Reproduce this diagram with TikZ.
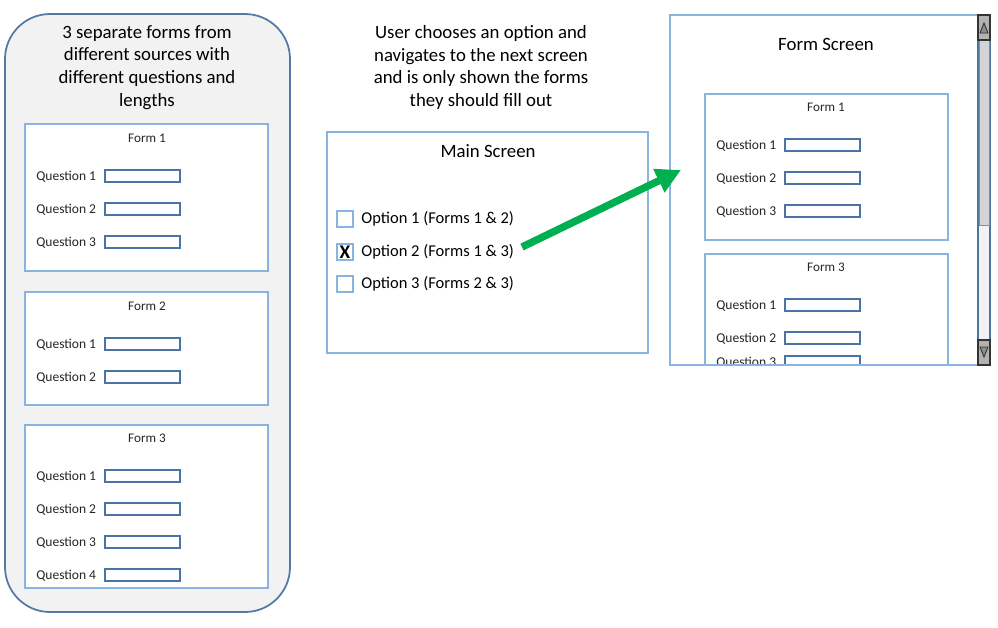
\documentclass[tikz,border=0pt]{standalone}
\usepackage{fontspec}
\setmainfont{Carlito}
\usetikzlibrary{arrows.meta}

\definecolor{panelfill}{HTML}{F2F2F2}
\definecolor{panelline}{HTML}{5479A6}
\definecolor{boxline}{HTML}{8AB4E0}
\definecolor{fieldline}{HTML}{4A74A6}
\definecolor{arrowgreen}{HTML}{00B050}
\definecolor{textgrey}{HTML}{262626}

\tikzset{
  formbox/.style={draw=boxline, fill=white, line width=0.8pt},
  formtitle/.style={inner sep=0pt, text=textgrey, font=\fontsize{7.5}{9}\selectfont},
  qtext/.style={anchor=west, inner sep=0pt, text=textgrey, font=\fontsize{7.7}{9}\selectfont},
  qfield/.style={anchor=west, draw=fieldline, fill=white, line width=0.9pt,
    minimum width=1.5cm, minimum height=0.24cm, inner sep=0pt},
  bigtext/.style={inner sep=0pt, align=center, font=\fontsize{10.7}{12.9}\selectfont},
  optbox/.style={draw=boxline, fill=white, line width=0.8pt, minimum size=0.32cm, inner sep=0pt},
  opttext/.style={anchor=west, inner sep=0pt, font=\fontsize{9.4}{11}\selectfont},
}

\begin{document}
\begin{tikzpicture}[x=0.02cm, y=-0.02cm]
        \useasboundingbox (0,0) rectangle (998,627);

        % left panel with the three forms
        \draw[fill=panelfill, draw=panelline, line width=1pt, rounded corners=0.9cm] (5,14) rectangle (290,612);
        \node[bigtext, anchor=north] (sources) at (147,25)
          {3 separate forms from\\different sources with\\different questions and\\lengths};

        \draw[formbox] (25,124) rectangle (268,271);
        \node[formtitle] (la-title) at (147,138) {Form 1};
        \foreach \n/\y in {1/176,2/209,3/242} {
          \node[qtext] (la-q\n) at (36,\y+1) {Question \n};
          \node[qfield] (la-f\n) at (104,\y) {};
        }

        \draw[formbox] (25,292) rectangle (268,405);
        \node[formtitle] (lb-title) at (147,306) {Form 2};
        \foreach \n/\y in {1/344,2/377} {
          \node[qtext] (lb-q\n) at (36,\y+1) {Question \n};
          \node[qfield] (lb-f\n) at (104,\y) {};
        }

        \draw[formbox] (25,425) rectangle (268,588);
        \node[formtitle] (lc-title) at (147,438) {Form 3};
        \foreach \n/\y in {1/476,2/509,3/542,4/575} {
          \node[qtext] (lc-q\n) at (36,\y+1) {Question \n};
          \node[qfield] (lc-f\n) at (104,\y) {};
        }

        % main screen
        \node[bigtext, anchor=north] (explain) at (481,25)
          {User chooses an option and\\navigates to the next screen\\and is only shown the forms\\they should fill out};

        \draw[draw=boxline, line width=0.8pt] (327,132) rectangle (648,353);
        \node[bigtext] (main-title) at (488,151) {Main Screen};

        \node[optbox] (box1) at (345,219) {};
        \node[opttext] (opt1) at (361,219) {Option 1 (Forms 1 \& 2)};
        \node[optbox, font=\fontsize{11}{12}\selectfont\bfseries] (box2) at (345,252) {X};
        \node[opttext] (opt2) at (361,252) {Option 2 (Forms 1 \& 3)};
        \node[optbox] (box3) at (345,284) {};
        \node[opttext] (opt3) at (361,284) {Option 3 (Forms 2 \& 3)};

        % form screen
        \node[bigtext] (form-title) at (826,44) {Form Screen};

        \begin{scope}
          \clip (670,15) rectangle (978,365);
          \draw[formbox] (705,94) rectangle (948,240);
          \node[formtitle] (ra-title) at (826,107) {Form 1};
          \foreach \n/\y in {1/145,2/178,3/211} {
            \node[qtext] (ra-q\n) at (716,\y+1) {Question \n};
            \node[qfield] (ra-f\n) at (784,\y) {};
          }
          \draw[formbox] (705,254) rectangle (948,380);
          \node[formtitle] (rb-title) at (826,267) {Form 3};
          \foreach \n/\y in {1/305,2/338,3/362} {
            \node[qtext] (rb-q\n) at (716,\y+1) {Question \n};
            \node[qfield] (rb-f\n) at (784,\y) {};
          }
        \end{scope}
        \draw[draw=boxline, line width=0.8pt] (670,15) rectangle (990,365);

        % scroll bar
        \draw[fill=panelfill, draw=fieldline, line width=0.6pt] (978,15) rectangle (990,365);
        \draw[fill=black!17, draw=black!45, line width=0.5pt] (979,40) rectangle (989,225);
        \draw[fill=black!30, draw=black!80, line width=0.8pt] (978,15) rectangle (990,40);
        \draw[fill=black!45, draw=black!80, line width=0.5pt] (980,33) -- (988,33) -- (984,23) -- cycle;
        \draw[fill=black!30, draw=black!80, line width=0.8pt] (978,340) rectangle (990,365);
        \draw[fill=black!45, draw=black!80, line width=0.5pt] (980,347) -- (988,347) -- (984,357) -- cycle;

        % arrow to the form screen
        \coordinate (go-from) at (522,247);
        \coordinate (go-to) at (681,170);
        \draw[arrowgreen, line width=4.2pt, -{Triangle[length=14pt, width=14pt]}] (go-from) -- (go-to);
    \end{tikzpicture}
\end{document}
